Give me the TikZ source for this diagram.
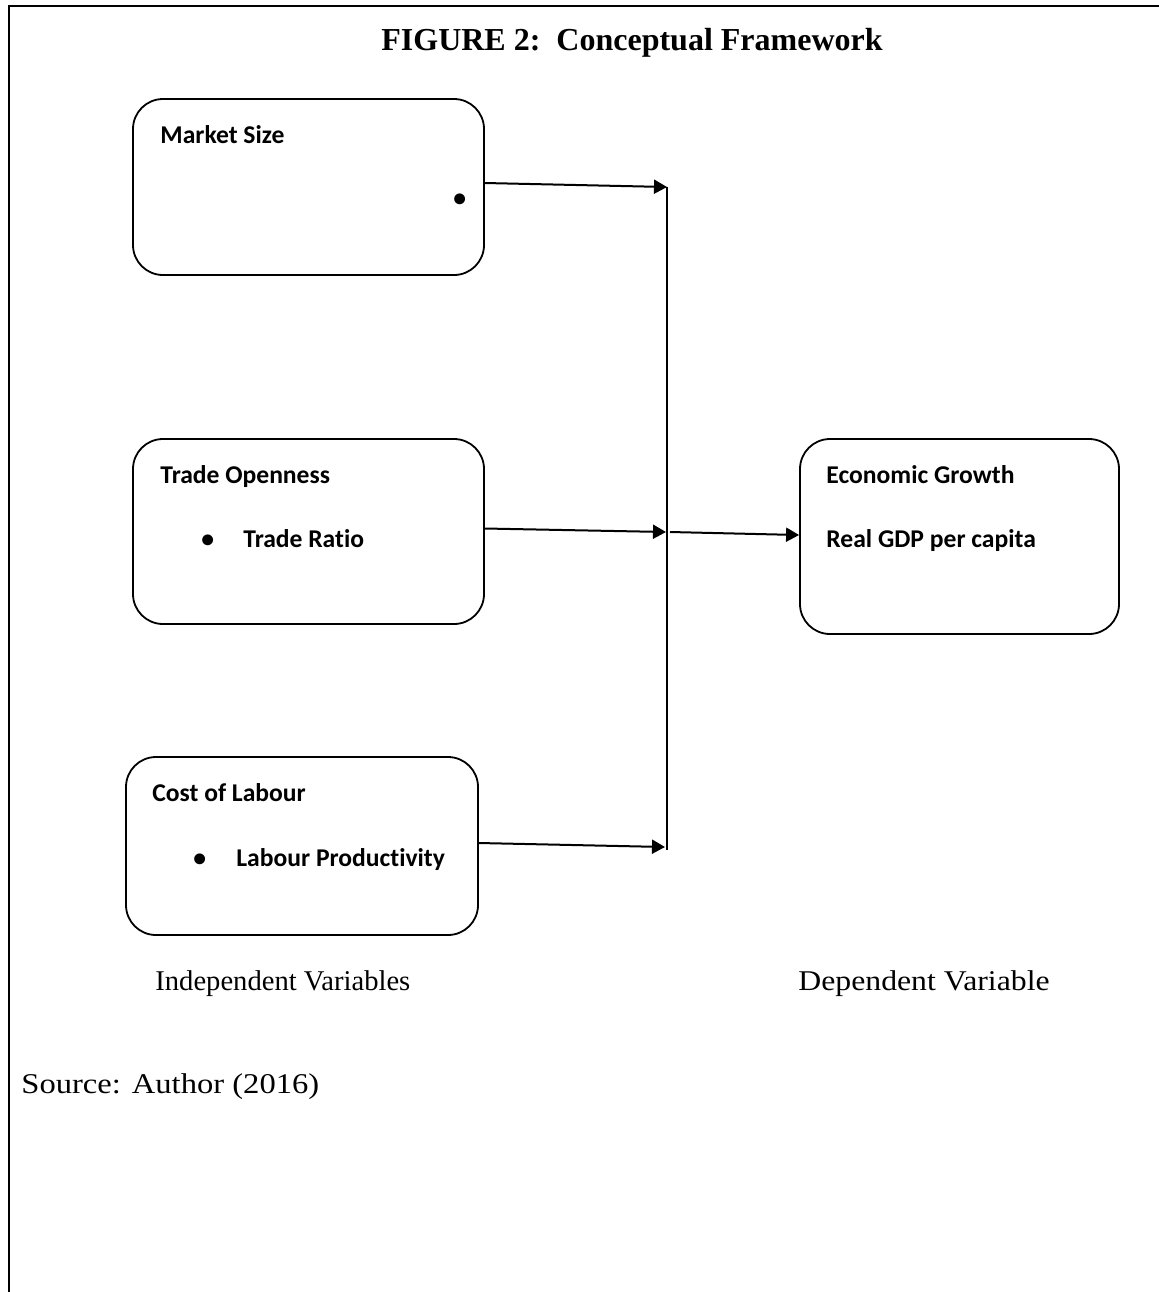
\documentclass[tikz,border=0pt]{standalone}
\usepackage{fontspec}
\setmainfont{Liberation Serif}
\newfontfamily\calfont[Ligatures=NoCommon]{Carlito}
\usetikzlibrary{arrows.meta}
\begin{document}
\begin{tikzpicture}[x=0.5pt,y=-0.5pt,
  varbox/.style={draw,line width=0.9pt,rounded corners=15pt,inner sep=0pt},
  lbl/.style={anchor=base west,inner sep=0pt,font=\calfont\bfseries\fontsize{12.8}{14}\selectfont},
  capt/.style={anchor=base west,inner sep=0pt,font=\fontsize{14.3}{17}\selectfont},
  arr/.style={line width=1pt,-{Triangle[length=6.5pt,width=7pt]}},
  link/.style={line width=0.8pt}]
\useasboundingbox (0,0) rectangle (1159,1292);
\draw[line width=1pt] (9,1292) -- (9,6) -- (1159,6);
\node[anchor=base,inner sep=0pt,font=\bfseries\fontsize{16}{19}\selectfont] (title) at (632,50) {FIGURE 2:\ \ Conceptual Framework};
% boxes
\node[varbox,minimum width=175.5pt,minimum height=88pt] (ms) at (308.5,187) {};
\node[varbox,minimum width=175.5pt,minimum height=92.5pt] (to) at (308.5,531.5) {};
\node[varbox,minimum width=176pt,minimum height=89pt] (cl) at (302,846) {};
\node[varbox,minimum width=159.5pt,minimum height=97.5pt] (eg) at (959.5,536.5) {};
% labels
\node[lbl] (msl) at (160,143) {Market Size};
\node[lbl] (msb) at (453,206) {•};
\node[lbl] (tol) at (160,483) {Trade Openness};
\node[lbl] (tob) at (201,547) {•};
\node[lbl] (tor) at (243,547) {Trade Ratio};
\node[lbl] (cll) at (152,801) {Cost of Labour};
\node[lbl] (clb) at (193,866) {•};
\node[lbl] (clr) at (236,866) {Labour Productivity};
\node[lbl] (egl) at (826,483) {Economic Growth};
\node[lbl] (egr) at (826,547) {Real GDP per capita};
% captions
\node[capt] (iv) at (155,990) {Independent Variables};
\node[capt] (dv) at (798,990) {\scalebox{1.11}[1]{Dependent Variable}};
\node[capt] (src) at (21,1093) {\scalebox{1.14}[1]{Source: Author (2016)}};
% connectors
\coordinate (j1) at (667,187);
\coordinate (j2) at (666,532);
\coordinate (j2o) at (670,532);
\coordinate (j3) at (665,847);
\draw[link] (667,187) -- (667,850);
\draw[arr] ([yshift=2pt]ms.east) -- (j1);
\draw[arr] ([yshift=1.5pt]to.east) -- (j2);
\draw[arr] (j2o) -- ([yshift=0.75pt]eg.west);
\draw[arr] ([yshift=1.5pt]cl.east) -- (j3);
\end{tikzpicture}
\end{document}
